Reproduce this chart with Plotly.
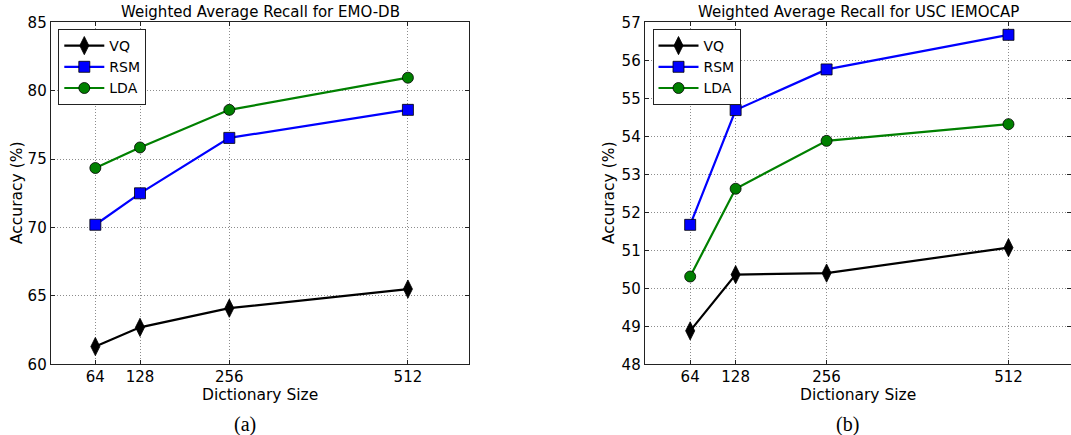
import plotly.graph_objects as go

dict_sizes = [64, 128, 256, 512]
x_ticks = [64, 128, 256, 512]

emo_vq = [61.3, 62.7, 64.1, 65.5]
emo_rsm = [70.2, 72.5, 76.55, 78.6]
emo_lda = [74.35, 75.85, 78.6, 80.95]

iemo_vq = [48.88, 50.36, 50.4, 51.07]
iemo_rsm = [51.67, 54.69, 55.76, 56.67]
iemo_lda = [50.31, 52.62, 53.88, 54.32]

W, H = 1071, 435
FONT = "DejaVu Sans"

fig = go.Figure()

styles = {
    "VQ": dict(color="black", symbol="diamond-tall", size=13),
    "RSM": dict(color="#0000ff", symbol="square", size=11),
    "LDA": dict(color="#008000", symbol="circle", size=11),
}

def add_series(name, x, y, xa, ya, legend):
    s = styles[name]
    fig.add_trace(go.Scatter(
        x=x, y=y, name=name, mode="lines+markers",
        xaxis=xa, yaxis=ya, legend=legend,
        line=dict(color=s["color"], width=2.2),
        marker=dict(symbol=s["symbol"], size=s["size"], color=s["color"],
                    line=dict(color="black", width=0.8)),
    ))

for n, yv in [("VQ", emo_vq), ("RSM", emo_rsm), ("LDA", emo_lda)]:
    add_series(n, dict_sizes, yv, "x", "y", "legend")
for n, yv in [("VQ", iemo_vq), ("RSM", iemo_rsm), ("LDA", iemo_lda)]:
    add_series(n, dict_sizes, yv, "x2", "y2", "legend2")

def px_x(p):
    return p / W

def px_y(p):
    return 1 - p / H

axis_common = dict(
    showline=True, linecolor="#222", linewidth=1, mirror="allticks",
    ticks="inside", ticklen=4, tickcolor="#222",
    showgrid=True, gridcolor="#8c8c8c", griddash="1px,2px", gridwidth=1,
    zeroline=False, automargin=False,
    tickfont=dict(family=FONT, size=15, color="black"),
)

ydom = [px_y(364.3), px_y(22.3)]

fig.update_layout(
    width=W, height=H,
    margin=dict(l=0, r=0, t=0, b=0),
    paper_bgcolor="white", plot_bgcolor="white",
    font=dict(family=FONT, color="black"),
    xaxis=dict(domain=[px_x(50.7), px_x(469.3)], range=[0, 600],
               tickvals=x_ticks, anchor="y", ticklabelstandoff=-1, **axis_common),
    yaxis=dict(domain=ydom, range=[60, 85], dtick=5, anchor="x", **axis_common),
    xaxis2=dict(domain=[px_x(644.7), 1.0], range=[0, 600],
                tickvals=x_ticks, anchor="y2", ticklabelstandoff=-1, **axis_common),
    yaxis2=dict(domain=ydom, range=[48, 57], dtick=1, anchor="x2", **axis_common),
    legend=dict(x=px_x(58.3), y=px_y(29), xanchor="left", yanchor="top",
                bordercolor="#222", borderwidth=1, bgcolor="white",
                font=dict(family=FONT, size=14, color="black"),
                itemwidth=40, tracegroupgap=0),
    legend2=dict(x=px_x(652.5), y=px_y(29), xanchor="left", yanchor="top",
                 bordercolor="#222", borderwidth=1, bgcolor="white",
                 font=dict(family=FONT, size=14, color="black"),
                 itemwidth=40, tracegroupgap=0),
    showlegend=True,
)

ann = [
    ("Weighted Average Recall for EMO-DB", 260, 12, 15, FONT, 0),
    ("Weighted Average Recall for USC IEMOCAP", 858, 12, 15, FONT, 0),
    ("Dictionary Size", 260, 395, 15.5, FONT, 0),
    ("Dictionary Size", 858, 395, 15.5, FONT, 0),
    ("Accuracy (%)", 17, 193, 15.5, FONT, -90),
    ("Accuracy (%)", 609, 193, 15.5, FONT, -90),
    ("(a)", 245, 424, 20, "Liberation Serif", 0),
    ("(b)", 847, 424, 20, "Liberation Serif", 0),
]
for text, x, y, size, fam, ang in ann:
    fig.add_annotation(text=text, x=px_x(x), y=px_y(y), xref="paper", yref="paper",
                       showarrow=False, xanchor="center", yanchor="middle",
                       textangle=ang, font=dict(family=fam, size=size, color="black"))

fig.write_html("out.html")
